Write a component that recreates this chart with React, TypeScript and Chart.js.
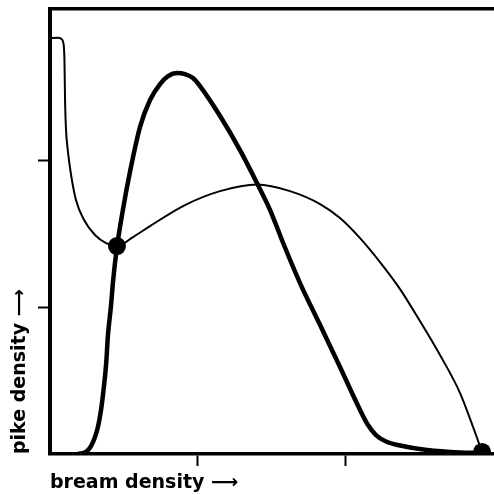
import React, { useEffect, useRef } from "react";
import { Chart, registerables } from "chart.js";

Chart.register(...registerables);

// Thin curve (isocline)
const thinX = [0, 0.054, 0.075, 0.092, 0.098, 0.102, 0.108, 0.122, 0.142, 0.176, 0.231, 0.305, 0.38, 0.454, 0.563, 0.678, 0.915, 1.153, 1.404, 1.627, 1.831, 1.966, 2.102, 2.237, 2.373, 2.508, 2.644, 2.78, 2.868, 2.929];
const thinY = [2.832, 2.835, 2.828, 2.791, 2.682, 2.41, 2.219, 2.056, 1.906, 1.729, 1.593, 1.491, 1.436, 1.416, 1.477, 1.552, 1.695, 1.79, 1.835, 1.79, 1.702, 1.607, 1.47, 1.307, 1.123, 0.905, 0.674, 0.415, 0.184, 0.014];

// Thick curve (isocline)
const thickX = [0.19, 0.244, 0.278, 0.305, 0.325, 0.346, 0.359, 0.38, 0.393, 0.414, 0.427, 0.454, 0.488, 0.542, 0.61, 0.678, 0.746, 0.8, 0.861, 0.915, 0.969, 1.017, 1.153, 1.288, 1.403, 1.492, 1.586, 1.695, 1.831, 1.966, 2.102, 2.156, 2.21, 2.278, 2.373, 2.556, 2.78, 2.929];
const thickY = [0, 0.014, 0.054, 0.116, 0.184, 0.3, 0.402, 0.606, 0.81, 1.014, 1.171, 1.409, 1.627, 1.92, 2.226, 2.41, 2.519, 2.573, 2.594, 2.587, 2.56, 2.505, 2.301, 2.069, 1.845, 1.661, 1.423, 1.164, 0.878, 0.592, 0.3, 0.197, 0.129, 0.085, 0.058, 0.027, 0.01, 0.007];

// Equilibrium points
const dotX = [0.454, 2.929];
const dotY = [1.416, 0.014];

const xTicks = [1, 2];
const yTicks = [1, 2];

const xTitle = "bream density ⟶";
const yTitle = "pike density ⟶";

const toPts = (xs: number[], ys: number[]) => xs.map((x, i) => ({ x, y: ys[i] }));

export default function App() {
  const ref = useRef<HTMLCanvasElement | null>(null);

  useEffect(() => {
    document.body.style.margin = "0";
    const canvas = ref.current;
    if (!canvas) return;
    const titleFont = { family: "DejaVu Sans", size: 19, weight: "bold" as const };
    const chart = new Chart(canvas, {
      type: "scatter",
      data: {
        datasets: [
          {
            data: toPts(thinX, thinY),
            showLine: true,
            borderColor: "#000",
            borderWidth: 2,
            pointRadius: 0,
            cubicInterpolationMode: "monotone",
            clip: 4,
          },
          {
            data: toPts(thickX, thickY),
            showLine: true,
            borderColor: "#000",
            borderWidth: 4.5,
            pointRadius: 0,
            cubicInterpolationMode: "monotone",
            clip: { left: 4, right: 4, top: 4, bottom: 0 },
          },
          {
            data: toPts(dotX, dotY),
            showLine: false,
            pointRadius: 9,
            pointBackgroundColor: "#000",
            pointBorderColor: "#000",
            borderWidth: 0,
            clip: { left: 12, right: 12, top: 12, bottom: 1 },
          },
        ],
      },
      options: {
        responsive: false,
        animation: false,
        devicePixelRatio: 1,
        layout: { padding: 0, autoPadding: false },
        plugins: { legend: { display: false }, tooltip: { enabled: false } },
        scales: {
          x: {
            type: "linear",
            position: "bottom",
            min: 0,
            max: 3.01,
            afterBuildTicks: (s: any) => {
              s.ticks = xTicks.map((v) => ({ value: v }));
            },
            afterFit: (s: any) => {
              s.height = 41;
            },
            ticks: { display: false },
            grid: {
              display: true,
              drawOnChartArea: false,
              drawTicks: true,
              tickLength: 12,
              tickWidth: 2,
              tickColor: "#000",
            },
            border: { display: true, color: "#000", width: 3.5 },
            title: {
              display: true,
              text: xTitle,
              align: "start",
              color: "#000",
              font: titleFont,
              padding: { top: 0, bottom: 1 },
            },
          },
          xTop: {
            type: "linear",
            position: "top",
            min: 0,
            max: 3,
            afterFit: (s: any) => {
              s.height = 9;
            },
            ticks: { display: false },
            grid: { display: false, drawTicks: false },
            border: { display: true, color: "#000", width: 3.5 },
          },
          y: {
            type: "linear",
            position: "left",
            min: 0,
            max: 3.03,
            afterBuildTicks: (s: any) => {
              s.ticks = yTicks.map((v) => ({ value: v }));
            },
            afterFit: (s: any) => {
              s.width = 50;
            },
            ticks: { display: false },
            grid: {
              display: true,
              drawOnChartArea: false,
              drawTicks: true,
              tickLength: 12,
              tickWidth: 2,
              tickColor: "#000",
            },
            border: { display: true, color: "#000", width: 4 },
            title: {
              display: true,
              text: yTitle,
              align: "start",
              color: "#000",
              font: titleFont,
              padding: { top: 9, bottom: 0 },
            },
          },
        },
      },
    } as any);
    return () => chart.destroy();
  }, []);

  return (
    <div style={{ width: 494, height: 495 }}>
      <canvas ref={ref} width={494} height={495} />
    </div>
  );
}
